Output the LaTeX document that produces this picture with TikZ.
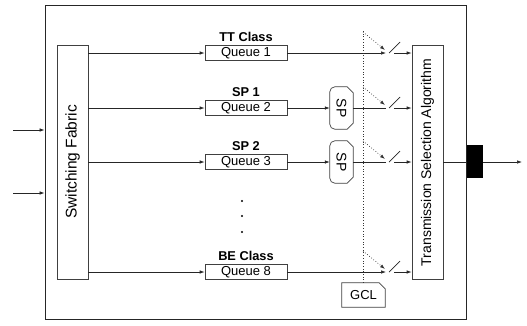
\documentclass[tikz,border=0pt]{standalone}
\usepackage{fontspec}
\setmainfont{Liberation Sans}
\usetikzlibrary{arrows.meta,positioning}

\begin{document}
\begin{tikzpicture}[
    x=1pt, y=-1pt,
    every node/.style={font=\fontsize{13}{15}\selectfont},
    boxline/.style={draw=black!75, line width=0.7pt},
    queue/.style={boxline, minimum width=82pt, minimum height=15pt, inner sep=0pt},
    classlbl/.style={font=\fontsize{12.8}{15}\selectfont\bfseries, inner sep=0pt},
    tallbox/.style={boxline, minimum width=31pt, minimum height=234pt, inner sep=0pt},
    spbox/.style={minimum width=23pt, minimum height=42pt, inner sep=0pt},
    arrow/.style={-{Latex[length=5pt,width=3.5pt]}, line width=0.7pt, black!85},
    gate/.style={dotted, line width=0.7pt, black!80}
  ]
  \useasboundingbox (0,0) rectangle (527,325);

  % Bridge port
  \node[draw=black!85, line width=0.8pt, minimum width=421pt, minimum height=314pt] (port) at (255.5,162) {};
  \node[tallbox, font=\fontsize{15.5}{17}\selectfont] (fabric) at (72.5,162) {\rotatebox{90}{Switching Fabric}};
  \node[tallbox, font=\fontsize{14}{16}\selectfont] (tsa) at (427.5,162.5) {\rotatebox{90}{Transmission Selection Algorithm}};

  % Inputs
  \coordinate (inA) at (13,130);
  \coordinate (inB) at (13,193);
  \draw[arrow] (inA) -- (port.west |- inA);
  \draw[arrow] (inB) -- (port.west |- inB);

  % Queues with their switches
  \foreach \q/\y/\lbl in {1/53/TT Class, 2/108/SP 1, 3/162/SP 2, 8/272/BE Class} {
    \node[queue] (q\q) at (246,\y) {Queue \q};
    \node[classlbl] (lbl\q) at (246,\y-16) {\lbl};
    \coordinate (in\q) at (386,\y);
    \coordinate (out\q) at (394,\y);
    \draw[arrow] (fabric.east |- q\q) -- (q\q.west);
    \draw[line width=0.7pt, black!85] (389,\y) -- (400,\y-11);
    \draw[arrow] (out\q) -- (tsa.west |- out\q);
    \draw[gate, -{Latex[length=5pt,width=3.5pt]}] (363,\y-21) -- (385,\y-3);
  }

  % Strict priority blocks
  \node[spbox, font=\fontsize{14}{16}\selectfont] (sp2) at (341.5,108) {\rotatebox{-90}{SP}};
  \node[spbox, font=\fontsize{14}{16}\selectfont] (sp3) at (341.5,162) {\rotatebox{-90}{SP}};
  \foreach \s in {sp2,sp3}
    \draw[boxline] ([yshift=6pt]\s.south east) -- ([xshift=-6pt]\s.south east)
      [rounded corners=5pt] -- (\s.south west) -- (\s.north west)
      [sharp corners] -- ([xshift=-6pt]\s.north east) -- ([yshift=-6pt]\s.north east) -- cycle;
  \draw[arrow] (q1.east) -- (in1);
  \draw[arrow] (q2.east) -- (sp2.west);
  \draw[line width=0.7pt, black!85] (sp2.east) -- (in2);
  \draw[arrow] (q3.east) -- (sp3.west);
  \draw[line width=0.7pt, black!85] (sp3.east) -- (in3);
  \draw[arrow] (q8.east) -- (in8);

  % Dots between queues
  \foreach \d in {201,216,232}
    \fill (242,\d) circle (1.2pt);

  % Gate control list
  \node[minimum width=43pt, minimum height=24pt, inner sep=0pt] (gcl) at (363.5,295) {GCL};
  \draw[boxline] (gcl.south west) -- (gcl.north west) -- ([xshift=-6pt]gcl.north east)
    -- ([yshift=-6pt]gcl.north east) -- (gcl.south east) -- cycle;
  \coordinate (gtop) at (363,30);
  \draw[gate] (gcl.north -| gtop) -- (gtop);

  % Output
  \node[fill=black, minimum width=16pt, minimum height=33pt, inner sep=0pt] (phy) at (475,161.5) {};
  \coordinate (outp) at (522,162);
  \draw[line width=0.7pt, black!85] (tsa.east |- outp) -- (phy.west |- outp);
  \draw[arrow] (phy.east |- outp) -- (outp);
\end{tikzpicture}
\end{document}
